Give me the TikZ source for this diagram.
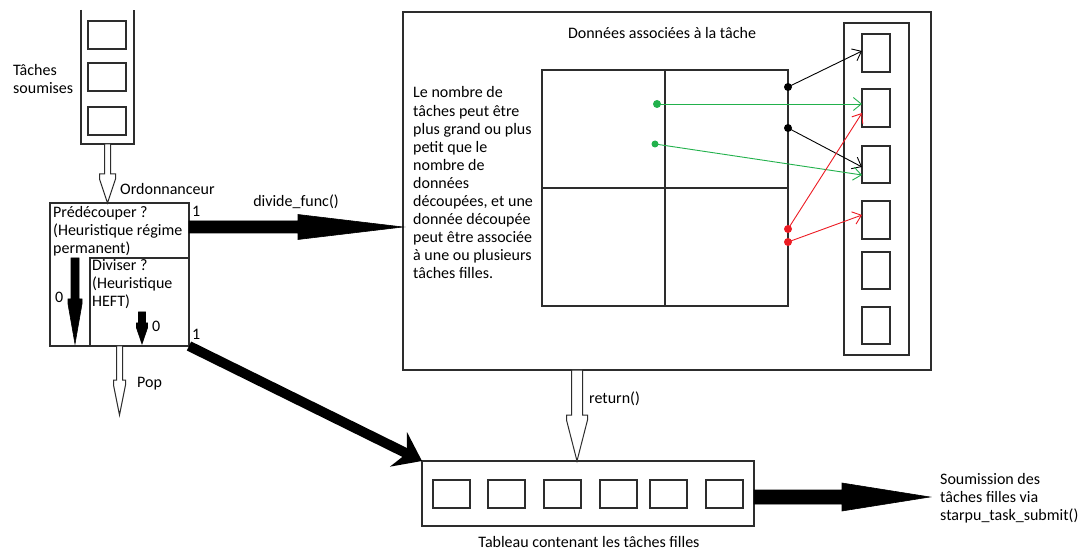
\documentclass[tikz,border=0pt]{standalone}
\usepackage{fontspec}
\setmainfont{Carlito}
\usetikzlibrary{arrows.meta,calc}
\definecolor{pgreen}{RGB}{34,177,76}
\definecolor{pred}{RGB}{237,28,36}
\definecolor{edgec}{RGB}{45,45,45}
% vertical block arrow: #1 style, #2 start, #3 end, #4 shaft half, #5 head half, #6 head length
\newcommand\vArrow[6]{%
  \draw[#1] let \p1=(#2), \p2=(#3) in
   (\x1-#4pt,\y1) -- (\x1-#4pt,\y2+#6pt) -- (\x1-#5pt,\y2+#6pt) -- (\x1-#5pt,\y2+#6pt-5pt)
   -- (\x1,\y2) -- (\x1+#5pt,\y2+#6pt-5pt) -- (\x1+#5pt,\y2+#6pt) -- (\x1+#4pt,\y2+#6pt)
   -- (\x1+#4pt,\y1) -- cycle;}
% horizontal block arrow
\newcommand\hArrow[6]{%
  \draw[#1] let \p1=(#2), \p2=(#3) in
   (\x1,\y1+#4pt) -- (\x2-#6pt,\y1+#4pt) -- (\x2-#6pt,\y1+#5pt) -- (\x2,\y1)
   -- (\x2-#6pt,\y1-#5pt) -- (\x2-#6pt,\y1-#4pt) -- (\x1,\y1-#4pt) -- cycle;}
\begin{document}
\begin{tikzpicture}[x=1pt,y=-1pt,
  box/.style={draw=edgec,line width=1.2,inner sep=0,outer sep=0,anchor=north west},
  txt/.style={inner sep=0,anchor=base west,font=\fontsize{16}{18.2}\selectfont,text=black},
  dot/.style={circle,fill=#1,inner sep=0,minimum size=8},
  link/.style={line width=0.9,-{Straight Barb[length=8,width=13]}},
  hollow/.style={draw=edgec,fill=white,line width=1},
  solid arrow/.style={draw=black,fill=black,line width=0.6}]
\useasboundingbox (0,0) rectangle (1090,553);
\fill[white] (0,0) rectangle (1090,553);

% ---------- submitted task queue ----------
\node[inner sep=0,outer sep=0,anchor=north west,minimum width=53,minimum height=134] (queue) at (81,10) {};
\draw[edgec,line width=1.2] (queue.north west) -- (queue.south west) -- (queue.south east) -- (queue.north east);
\foreach \y [count=\i] in {21,63,107}
  \node[box,minimum width=38,minimum height=28] (q\i) at (88,\y) {};
\node[txt] (t1) at (13,76) {Tâches};
\node[txt] (t2) at (13,94) {soumises};

% ---------- scheduler ----------
\node[box,minimum width=139,minimum height=143] (sched) at (50,203) {};
\node[box,minimum width=99,minimum height=88] (div) at (90,258) {};
\node[txt] (ord) at (120,195) {Ordonnanceur};
\node[txt] (p1) at (53,218) {Prédécouper ?};
\node[txt] (p2) at (53,236) {(Heuristique régime};
\node[txt] (p3) at (53,254) {permanent)};
\node[txt] (d1) at (92,271) {Diviser ?};
\node[txt] (d2) at (92,289) {(Heuristique};
\node[txt] (d3) at (92,307) {HEFT)};
\node[txt] (z1) at (55,303) {0};
\node[txt] (z2) at (152,332) {0};
\node[txt] (o1) at (192,217) {1};
\node[txt] (o2) at (192,340) {1};

\coordinate (qa) at (queue.south);
\coordinate (qb) at (qa |- sched.north);
\vArrow{hollow}{qa}{qb}{3}{8}{29}

\coordinate (la) at (75,258);
\coordinate (lb) at (75,344);
\vArrow{solid arrow}{la}{lb}{4}{7}{45}
\coordinate (sa) at (142,312);
\coordinate (sb) at (142,344);
\vArrow{solid arrow}{sa}{sb}{3.5}{5.5}{21}

\coordinate (popend) at ($(sched.south)+(0,69)$);
\vArrow{hollow}{sched.south}{popend}{3}{6}{35}
\node[txt] (pop) at (137,388) {Pop};

% ---------- central box ----------
\node[box,minimum width=528,minimum height=358] (cbox) at (403,12) {};
\node[inner sep=0,anchor=base,font=\fontsize{16}{18.2}\selectfont] (title) at (662,39) {Données associées à la tâche};
\foreach \t [count=\i] in {Le nombre de,tâches peut être,plus grand ou plus,petit que le,nombre de,données,{découpées, et une},donnée découpée,peut être associée,à une ou plusieurs,tâches filles.}
  \node[txt] (L\i) at (413,{98+18.1*(\i-1)}) {\t};

\node[box,minimum width=246,minimum height=236] (grid) at (542,70) {};
\draw[edgec,line width=1.2] (665,70) -- (665,306);
\draw[edgec,line width=1.2] (542,188) -- (788,188);

\node[box,minimum width=65,minimum height=332] (col) at (844,23) {};
\foreach \y/\h [count=\i] in {34/38,89/38,146/37,201/38,252/37,307/37}
  \node[box,minimum width=28,minimum height=\h] (r\i) at (862,\y) {};

\node[dot=black] (kd1) at (788,87) {};
\node[dot=pgreen] (gd1) at (657,104) {};
\node[dot=black] (kd2) at (788,128) {};
\node[dot=pgreen,minimum size=7] (gd2) at (655,144) {};
\node[dot=pred] (rd1) at (788,229) {};
\node[dot=pred] (rd2) at (788,242) {};

\draw[link,black] (kd1.center) -- ($(r1.north west)+(0,17)$);
\draw[link,pgreen] (gd1.center) -- ($(r2.north west)+(0,15)$);
\draw[link,black] (kd2.center) -- ($(r3.north west)+(0,21)$);
\draw[link,pgreen] (gd2.center) -- ($(r3.north west)+(0,29)$);
\draw[link,pred] (rd1.center) -- ($(r2.north west)+(0,24)$);
\draw[link,pred] (rd2.center) -- ($(r4.north west)+(0,14)$);

% ---------- divide arrow ----------
\coordinate (dv) at (189,227);
\coordinate (dvend) at (cbox.west |- dv);
\hArrow{solid arrow}{dv}{dvend}{6}{12.5}{105}
\node[inner sep=0,anchor=base,font=\fontsize{16}{18.2}\selectfont] (dfun) at (296,207) {divide\_func()};

% ---------- bottom array ----------
\node[box,minimum width=332,minimum height=65] (arr) at (422,461) {};
\foreach \x [count=\i] in {433,488,544,600,650,706}
  \node[box,minimum width=37,minimum height=28] (b\i) at (\x,480) {};
\node[inner sep=0,anchor=base,font=\fontsize{16}{18.2}\selectfont] (tab) at (589,547) {Tableau contenant les tâches filles};

\coordinate (ra) at (577,370);
\coordinate (rb) at (ra |- arr.north);
\vArrow{hollow}{ra}{rb}{5.5}{10.5}{46}
\node[txt] (ret) at (589,403) {return()};

\draw[line width=10,-{Stealth[length=26,width=38,inset=9]}] (sched.south east) -- (arr.north west);

% ---------- submit arrow ----------
\coordinate (sma) at (754,497);
\coordinate (smb) at (930,497);
\hArrow{solid arrow}{sma}{smb}{7}{14}{88}
\node[txt] (s1) at (940,484) {Soumission des};
\node[txt] (s2) at (940,502) {tâches filles via};
\node[txt] (s3) at (940,520) {starpu\_task\_submit()};
\end{tikzpicture}
\end{document}
